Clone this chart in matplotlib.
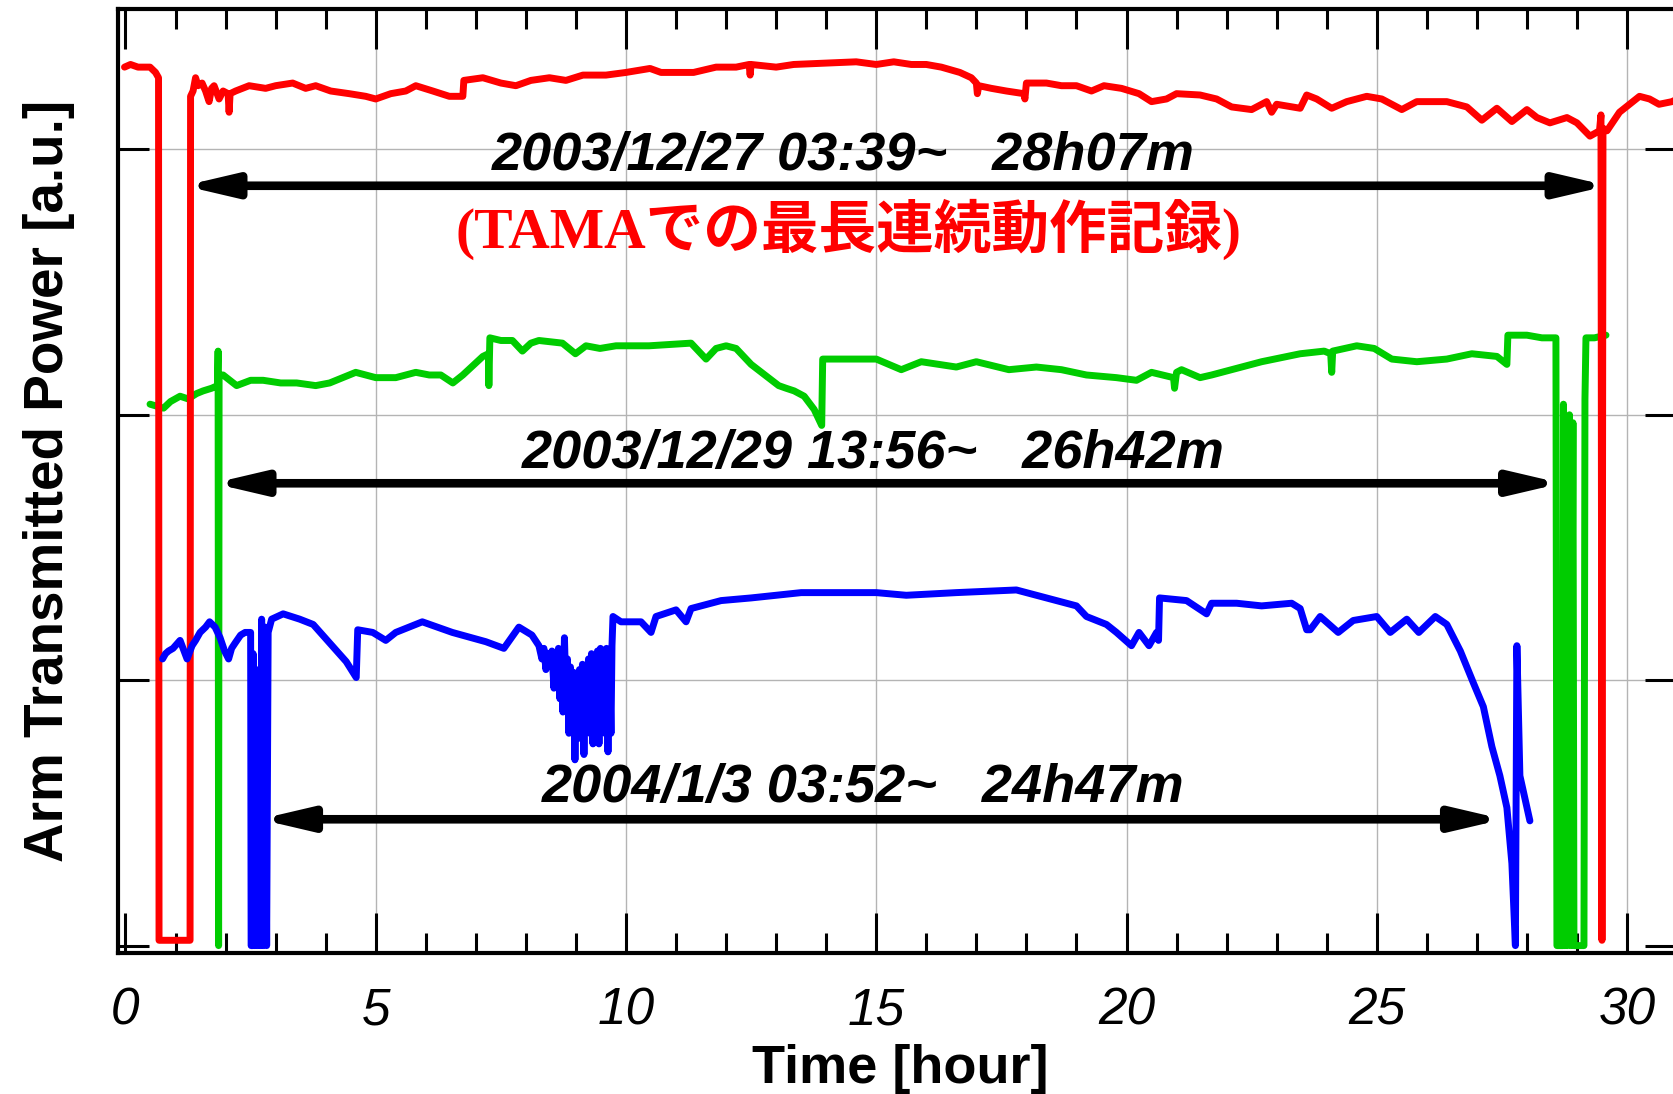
import matplotlib
matplotlib.use("Agg")
import matplotlib.pyplot as plt
import matplotlib.font_manager as fm
from matplotlib.ticker import MultipleLocator

# ---------------- data (hours, arm transmitted power [a.u.]) ----------------
red_t = [-0.02, 0.10, 0.25, 0.40, 0.49, 0.60, 0.66, 0.67, 1.29, 1.30, 1.35, 1.40, 1.45, 1.53, 1.60,
         1.67, 1.72, 1.77, 1.87, 1.95, 2.05, 2.07, 2.09, 2.20, 2.47, 2.80, 3.00, 3.34, 3.60, 3.80,
         4.10, 4.47, 4.80, 5.00, 5.30, 5.60, 5.80, 6.14, 6.47, 6.74, 6.76, 7.14, 7.50, 7.80, 8.10,
         8.47, 8.80, 9.14, 9.60, 10.00, 10.48, 10.70, 11.00, 11.35, 11.80, 12.20, 12.46, 12.48,
         12.50, 13.00, 13.35, 14.00, 14.60, 15.00, 15.35, 15.70, 16.00, 16.30, 16.67, 16.90, 17.00,
         17.02, 17.05, 17.30, 17.60, 17.95, 17.97, 18.00, 18.40, 18.70, 19.00, 19.30, 19.55, 19.90,
         20.25, 20.50, 20.80, 21.00, 21.47, 21.80, 22.10, 22.50, 22.80, 22.90, 23.00, 23.47, 23.60,
         23.80, 24.10, 24.40, 24.80, 25.10, 25.50, 25.80, 26.10, 26.40, 26.80, 27.10, 27.40, 27.70,
         28.00, 28.20, 28.46, 28.80, 29.00, 29.26, 29.45, 29.48, 29.50, 29.52, 29.60, 29.85, 30.05,
         30.25, 30.45, 30.64, 30.90, 31.00]
red_p = [3.31, 3.32, 3.31, 3.31, 3.31, 3.29, 3.27, 0.02, 0.02, 3.20, 3.22, 3.27, 3.24, 3.25, 3.22,
         3.18, 3.23, 3.24, 3.19, 3.22, 3.21, 3.14, 3.21, 3.22, 3.24, 3.23, 3.24, 3.25, 3.23, 3.24,
         3.22, 3.21, 3.20, 3.19, 3.21, 3.22, 3.24, 3.22, 3.20, 3.20, 3.26, 3.27, 3.25, 3.24, 3.26,
         3.27, 3.26, 3.28, 3.28, 3.29, 3.305, 3.29, 3.29, 3.29, 3.31, 3.31, 3.32, 3.28,
         3.32, 3.31, 3.32, 3.325, 3.33, 3.32, 3.33, 3.32, 3.32, 3.31, 3.29, 3.27, 3.25,
         3.21, 3.24, 3.23, 3.22, 3.21, 3.19, 3.25, 3.25, 3.24, 3.24, 3.22, 3.24, 3.23,
         3.21, 3.18, 3.19, 3.21, 3.205, 3.19, 3.16, 3.15, 3.18, 3.14, 3.17, 3.155, 3.205,
         3.19, 3.155, 3.18, 3.20, 3.19, 3.15, 3.18, 3.18, 3.18, 3.16, 3.11, 3.155, 3.105,
         3.15, 3.12, 3.10, 3.12, 3.10, 3.05, 3.07, 3.13, 0.02, 3.08, 3.07, 3.14, 3.17,
         3.20, 3.19, 3.17, 3.18, 3.19]

green_t = [0.49, 0.76, 0.90, 1.09, 1.25, 1.42, 1.55, 1.72, 1.84, 1.85, 1.86, 1.87, 1.95, 2.22, 2.50,
           2.75, 3.10, 3.42, 3.80, 4.08, 4.60, 5.00, 5.40, 5.80, 6.07, 6.30, 6.54, 6.74, 7.14, 7.25,
           7.26, 7.28, 7.50, 7.73, 7.93, 8.10, 8.26, 8.73, 8.99, 9.20, 9.48, 9.80, 10.00, 10.46, 11.30,
           11.60, 11.80, 12.00, 12.20, 12.50, 13.05, 13.20, 13.36, 13.56, 13.76, 13.91, 13.93, 14.30,
           15.00, 15.50, 15.90, 16.60, 17.00, 17.65, 18.20, 18.70, 19.20, 19.80, 20.20, 20.50, 20.94,
           20.96, 21.00, 21.10, 21.47, 21.70, 22.10, 22.70, 23.47, 23.95, 24.08, 24.10, 24.12, 24.60,
           24.95, 25.30, 25.80, 26.40, 26.90, 27.40, 27.60, 27.62, 28.00, 28.30, 28.58, 28.60, 28.72,
           28.73, 28.75, 28.78, 28.81, 28.85, 28.88, 28.92, 28.94, 29.14, 29.16, 29.18, 29.35, 29.58]
green_p = [2.04, 2.025, 2.05, 2.07, 2.06, 2.08, 2.09, 2.10, 2.11, 2.24, 0.00, 2.15, 2.15, 2.11, 2.13,
           2.13, 2.12, 2.12, 2.11, 2.12, 2.16, 2.14, 2.14, 2.16, 2.15, 2.15, 2.12, 2.15, 2.22, 2.23,
           2.11, 2.29, 2.28, 2.28, 2.24, 2.27, 2.28, 2.27, 2.23, 2.26, 2.25, 2.26, 2.26, 2.26, 2.27,
           2.21, 2.25, 2.26, 2.25, 2.19, 2.11, 2.10, 2.09, 2.07, 2.02, 1.96, 2.21, 2.21,
           2.21, 2.17, 2.20, 2.18, 2.20, 2.17, 2.18, 2.17, 2.15, 2.14, 2.13, 2.16, 2.14,
           2.10, 2.16, 2.17, 2.14, 2.15, 2.17, 2.20, 2.23, 2.24, 2.23, 2.16, 2.24, 2.26,
           2.25, 2.21, 2.20, 2.21, 2.23, 2.22, 2.19, 2.30, 2.30, 2.29, 2.29, 0.00, 0.00,
           2.04, 0.00, 1.98, 0.00, 2.00, 0.00, 1.97, 0.00, 0.00, 2.06, 2.29, 2.29, 2.30]

blue_t = [0.74, 0.80, 0.86, 0.95, 1.09, 1.15, 1.23, 1.33, 1.40, 1.49, 1.60, 1.68, 1.79, 1.89, 1.98,
          2.06, 2.12, 2.19, 2.30, 2.39, 2.50, 2.51, 2.54, 2.55, 2.58, 2.61, 2.63, 2.66, 2.69, 2.72,
          2.75, 2.79, 2.82, 2.85, 2.92, 3.15, 3.48, 3.75, 4.08, 4.41, 4.61, 4.64, 4.94, 5.20, 5.40,
          5.93, 6.53, 7.20, 7.56, 7.86, 8.12, 8.26, 8.32, 8.36, 8.40, 8.44, 8.48, 8.52, 8.56, 8.59,
          8.62, 8.65, 8.68, 8.71, 8.74, 8.77, 8.80, 8.83, 8.86, 8.89, 8.92, 8.95, 8.98, 9.01, 9.04,
          9.07, 9.10, 9.13, 9.16, 9.19, 9.22, 9.25, 9.28, 9.31, 9.34, 9.37, 9.40, 9.43, 9.46, 9.49,
          9.52, 9.55, 9.58, 9.61, 9.64, 9.67, 9.70, 9.72, 9.74, 9.90, 10.30, 10.50, 10.60, 11.00,
          11.20, 11.30, 11.90, 12.50, 13.50, 14.00, 15.00, 15.60, 16.60, 17.80, 18.40, 19.00, 19.20,
          19.60, 19.80, 20.10, 20.25, 20.45, 20.60, 20.64, 20.66, 21.20, 21.60, 21.70, 22.20, 22.70,
          23.30, 23.47, 23.60, 23.67, 23.87, 24.23, 24.53, 25.00, 25.27, 25.60, 25.84, 26.17, 26.40,
          26.67, 26.93, 27.13, 27.30, 27.46, 27.60, 27.70, 27.77, 27.80, 27.86, 28.00, 28.06]
blue_p = [1.08, 1.10, 1.11, 1.12, 1.15, 1.12, 1.08, 1.13, 1.15, 1.18, 1.20, 1.22, 1.20, 1.16, 1.11,
          1.08, 1.12, 1.14, 1.17, 1.18, 1.18, 0.00, 0.00, 1.10, 0.00, 1.04, 0.00, 1.02, 0.00, 1.23,
          0.00, 1.20, 0.00, 1.18, 1.23, 1.25, 1.23, 1.21, 1.14, 1.07, 1.01, 1.19, 1.18, 1.15, 1.18,
          1.22, 1.18, 1.145, 1.12, 1.20, 1.17, 1.13, 1.08, 1.12, 1.04, 1.10, 1.06, 1.11, 0.97, 1.09,
          1.02, 1.12, 0.93, 1.10, 0.88, 1.16, 0.95, 1.08, 0.80, 1.05, 0.85, 1.03, 0.70, 1.00, 0.78,
          1.04, 0.82, 1.06, 0.72, 1.02, 0.84, 1.08, 0.80, 1.10, 0.76, 1.07, 0.86, 1.11, 0.76, 1.12,
          0.88, 1.10, 0.80, 1.12, 0.73, 1.10, 0.80, 1.13, 1.24, 1.22, 1.22, 1.18, 1.24, 1.265,
          1.22, 1.27, 1.30, 1.31, 1.33, 1.33, 1.33, 1.32, 1.33, 1.34, 1.31, 1.28, 1.24,
          1.21, 1.18, 1.13, 1.18, 1.13, 1.18, 1.15, 1.31, 1.30, 1.25, 1.29, 1.29, 1.28,
          1.29, 1.27, 1.19, 1.19, 1.24, 1.18, 1.225, 1.24, 1.18, 1.23, 1.18, 1.24, 1.21,
          1.11, 0.99, 0.90, 0.75, 0.64, 0.52, 0.31, 0.00, 1.13, 0.64, 0.52, 0.47]

x_ticks = [0, 5, 10, 15, 20, 25, 30]
x_tick_labels = ["0", "5", "10", "15", "20", "25", "30"]
y_ticks = [0, 1, 2, 3]

# (label, text x, text baseline y, arrow start x, arrow end x, arrow y)
runs = [
    ("2003/12/27 03:39~   28h07m", 14.34, 2.922, 1.17, 29.62, 2.863),
    ("2003/12/29 13:56~   26h42m", 14.94, 1.798, 1.75, 28.69, 1.742),
    ("2004/1/3 03:52~   24h47m", 14.73, 0.542, 2.68, 27.53, 0.476),
]
record_note = "(TAMAでの最長連続動作記録)"

# ---------------- figure ----------------
W, H = 1673, 1094
fig = plt.figure(figsize=(W / 100, H / 100), dpi=100)
px_left, px_right, px_top, px_bottom = 118, 1676, 9, 953
ax = fig.add_axes([px_left / W, 1 - px_bottom / H, (px_right - px_left) / W, (px_bottom - px_top) / H])

x0_px, px_per_h = 125.5, 50.05
y0_px, px_per_u = 945.6, 265.4
ax.set_xlim((px_left - x0_px) / px_per_h, (px_right - x0_px) / px_per_h)
ax.set_ylim((y0_px - px_bottom) / px_per_u, (y0_px - px_top) / px_per_u)

lw = 5.0
ax.plot(green_t, green_p, color="#00cc00", lw=lw, zorder=3, solid_joinstyle="round", solid_capstyle="round")
ax.plot(red_t, red_p, color="#ff0000", lw=lw, zorder=4, solid_joinstyle="round", solid_capstyle="round")
ax.plot(blue_t, blue_p, color="#0000ff", lw=lw, zorder=5, solid_joinstyle="round", solid_capstyle="round")

# ticks / grid
names = {f.name for f in fm.fontManager.ttflist}
if "Liberation Sans Narrow" in names:
    tick_family, tick_size = "Liberation Sans Narrow", 40
else:
    tick_family, tick_size = "Liberation Sans", 37

ax.set_xticks(x_ticks)
ax.set_xticklabels(x_tick_labels, fontsize=tick_size, fontstyle="italic", family=tick_family)
ax.xaxis.set_minor_locator(MultipleLocator(1))
ax.set_yticks(y_ticks)
ax.set_yticklabels([])
ax.tick_params(axis="x", which="major", direction="in", length=29, width=2.2, top=True, bottom=True, pad=24)
ax.tick_params(axis="x", which="minor", direction="in", length=14.5, width=2.2, top=True, bottom=True)
ax.tick_params(axis="y", which="major", direction="in", length=22, width=2.2, left=True, right=True)
ax.grid(True, color="#b4b4b4", lw=1.0, zorder=0)
ax.set_axisbelow(True)
ax.xaxis.get_gridlines()[0].set_visible(False)
ax.yaxis.get_gridlines()[0].set_visible(False)
for s in ax.spines.values():
    s.set_linewidth(3)

# annotations
for label, tx, ty, xa, xb, ya in runs:
    ax.text(tx, ty, label, ha="center", va="baseline", fontsize=39, fontweight="bold",
            fontstyle="italic", family="Liberation Sans", zorder=10)
    ax.annotate("", xy=(xb, ya), xytext=(xa, ya),
                arrowprops=dict(arrowstyle="<|-|>,head_length=2.9,head_width=0.68", mutation_scale=10,
                                lw=6.2, color="black", shrinkA=0, shrinkB=0), zorder=10)

ax.text(14.45, 2.628, record_note, ha="center", va="baseline", fontsize=41.5, fontweight="bold",
        color="#ff0000", family=["Liberation Serif", "Noto Sans CJK JP"], zorder=10)

fig.text(900 / W, 1 - 1083 / H, "Time [hour]", ha="center", va="baseline", fontsize=39,
         fontweight="bold", family="Liberation Sans")
fig.text(63 / W, 1 - 481 / H, "Arm Transmitted Power [a.u.]", rotation=90, rotation_mode="anchor",
         ha="center", va="baseline", fontsize=39.5, fontweight="bold", family="Liberation Sans")

fig.savefig("out.png", dpi=100)
